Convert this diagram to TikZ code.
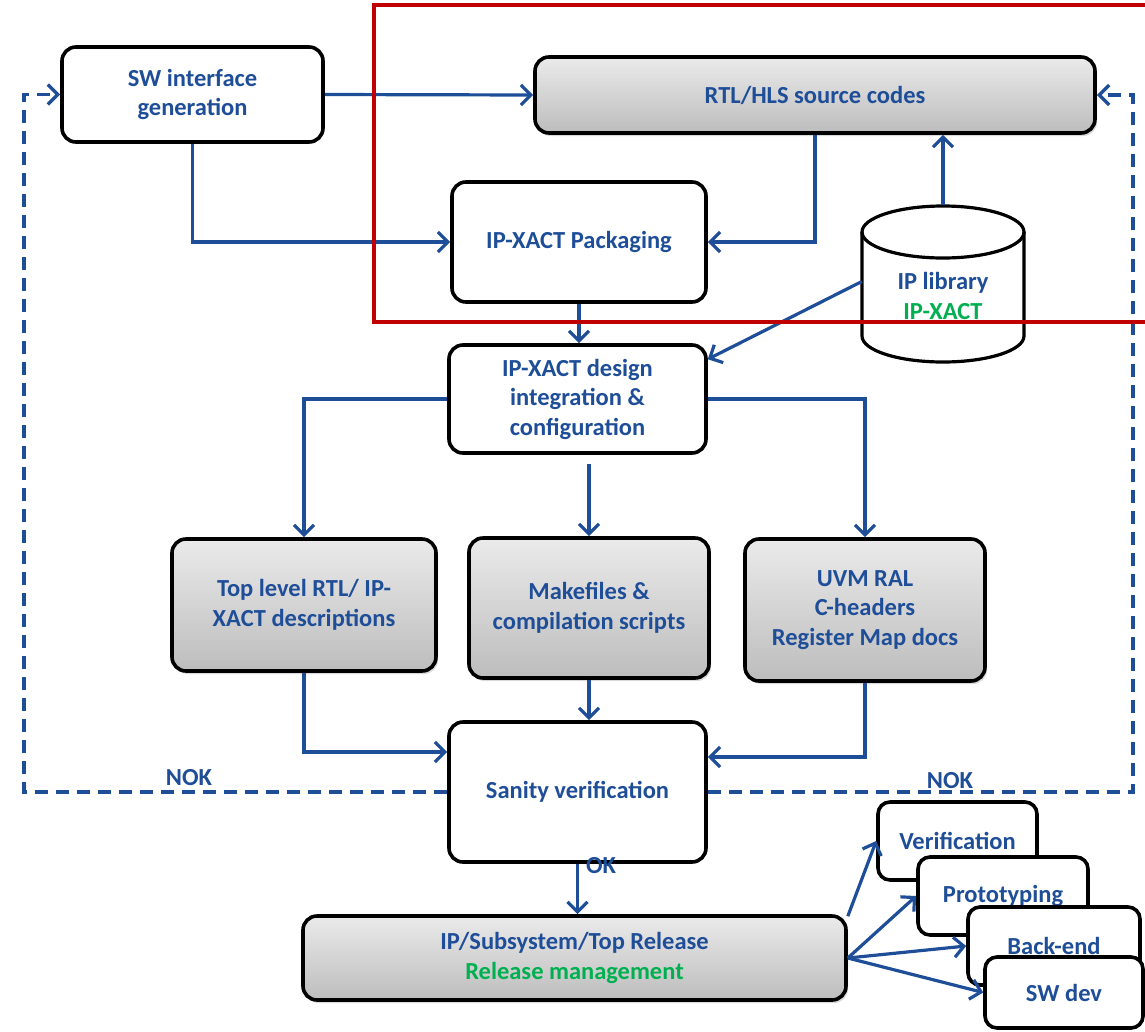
\documentclass[tikz,border=0pt]{standalone}
\usepackage{fontspec}
\setmainfont{Carlito}
\usetikzlibrary{arrows.meta,shadows,calc}
\definecolor{dblue}{HTML}{1F4E99}
\definecolor{ipgreen}{HTML}{00B050}
\definecolor{frame}{HTML}{C00000}
\newcommand{\lbl}{\fontsize{24.5}{29.5}\selectfont\bfseries}
\begin{document}
\begin{tikzpicture}[x=1pt,y=-1pt,
  blk/.style={draw=black, line width=3.6pt, rounded corners=14pt, fill=white,
    text=dblue, align=center, inner sep=0pt, font=\lbl},
  gblk/.style={blk, top color=gray!16, bottom color=gray!52,
    drop shadow={opacity=0.3, shadow xshift=2pt, shadow yshift=-3pt}},
  conn/.style={draw=dblue, line width=3.2pt, -{Straight Barb[length=10pt,width=20pt]}},
  nok/.style={draw=dblue, line width=3.4pt, dash pattern=on 13pt off 8pt,
    -{Straight Barb[length=10pt,width=20pt]}},
  lab/.style={text=dblue, font=\lbl, inner sep=0pt}]
\clip (0,0) rectangle (1145,1031);

% main flow boxes
\node[blk,  minimum width=261, minimum height=95]  (sw)     at (192.5,94.5) {SW interface\\generation};
\node[gblk, minimum width=560, minimum height=76]  (rtl)    at (815,95)     {RTL/HLS source codes};
\node[blk,  minimum width=254, minimum height=120] (pack)   at (579,242)    {IP-XACT Packaging};
\node[blk,  minimum width=257, minimum height=108] (design) at (577.5,399)  {IP-XACT design\\integration \&\\configuration};
\node[gblk, minimum width=264, minimum height=132] (top)    at (304,605)    {Top level RTL/ IP-\\XACT descriptions};
\node[gblk, minimum width=240, minimum height=140] (make)   at (589,608)    {Makefiles \&\\compilation scripts};
\node[gblk, minimum width=240, minimum height=142] (uvm)    at (865,610)    {UVM RAL\\C-headers\\Register Map docs};
\node[blk,  minimum width=257, minimum height=140] (sanity) at (577.5,792)  {Sanity verification};
\node[gblk, minimum width=543, minimum height=84]  (rel)    at (574.5,958)  {IP/Subsystem/Top Release\\\textcolor{ipgreen}{Release management}};

% downstream targets, stacked
\node[blk, rounded corners=12pt, minimum width=159, minimum height=78] (ver)   at (957.5,841) {Verification};
\node[blk, rounded corners=12pt, minimum width=170, minimum height=78] (proto) at (1003,896)  {Prototyping};
\node[blk, rounded corners=12pt, minimum width=172, minimum height=78] (back)  at (1054,946)  {Back-end};
\node[blk, rounded corners=12pt, minimum width=158, minimum height=71] (swdev) at (1064,992.5) {SW dev};

% IP library cylinder
\node[minimum width=162, minimum height=153, inner sep=0pt] (lib) at (943,281.5) {};
\draw[line width=3.2pt, fill=white] (862,232) -- (862,336)
  arc[start angle=180, end angle=0, x radius=81, y radius=26] -- (1024,232);
\draw[line width=3.2pt] (943,232) ellipse[x radius=81, y radius=26];
\node[lab, align=center] at (943,296) {IP library\\\textcolor{ipgreen}{IP-XACT}};

% connectors
\draw[conn] (sw.east) -- (rtl.west);
\draw[conn] (sw.south) |- (pack.west);
\draw[conn] (rtl.south) |- (pack.east);
\draw[conn] (lib.north) -- (lib.north |- rtl.south);
\draw[conn] (pack.south) -- (pack.south |- design.north);
\draw[conn] (lib.west) -- ([yshift=-16pt]design.north east);
\draw[conn] (design.west) -| (top.north);
\draw[conn] ([yshift=-9pt]design.south -| make.north) -- (make.north);
\draw[conn] (design.east) -| (uvm.north);
\draw[conn] (top.south) |- ([yshift=40pt]sanity.west);
\draw[conn] (make.south) -- (make.south |- sanity.north);
\draw[conn] (uvm.south) |- ([yshift=35pt]sanity.east);
\draw[conn] (sanity.south) -- (sanity.south |- rel.north);
\draw[conn] ([yshift=-2pt]rel.north east) -- (ver.west);
\draw[conn] (rel.east) -- (proto.west);
\draw[conn] (rel.east) -- (back.west);
\draw[conn] (rel.east) -- (swdev.west);

% failure loops back to the sources
\coordinate (nokL) at (24,792);
\coordinate (nokR) at (1133,792);
\draw[nok] (sanity.west) -- (nokL) |- (sw.west);
\draw[nok] (sanity.east) -- (nokR) |- (rtl.east);
\node[lab] at (189,778) {NOK};
\node[lab] at (950,781) {NOK};
\node[lab] at (601,866) {OK};

% highlighted packaging area
\draw[frame, line width=4pt] (374,5) rectangle (1160,322);
\end{tikzpicture}
\end{document}
